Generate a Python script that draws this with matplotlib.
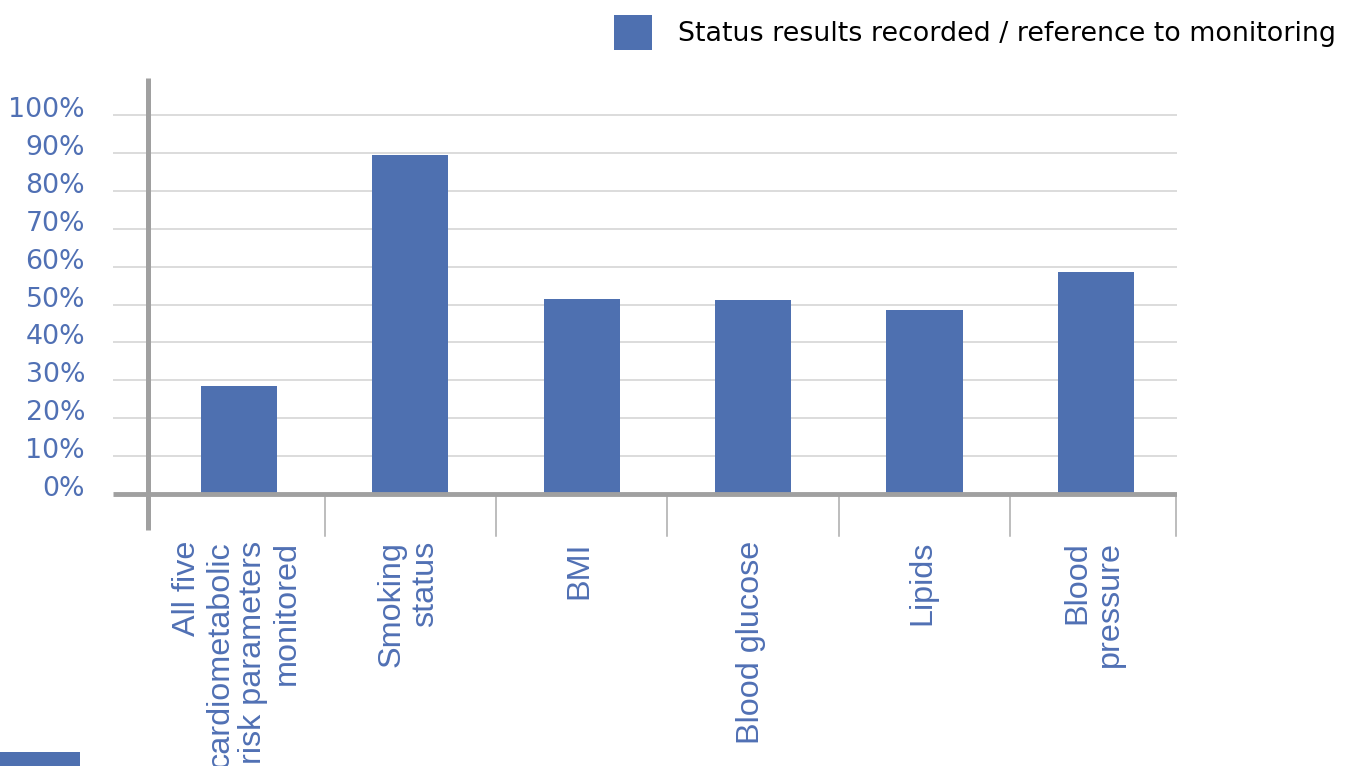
import matplotlib
matplotlib.use("Agg")
import matplotlib.pyplot as plt
from matplotlib.patches import Rectangle, Patch
import matplotlib.transforms as mtransforms

categories = ["All five\ncardiometabolic\nrisk parameters\nmonitored", "Smoking\nstatus", "BMI",
              "Blood glucose", "Lipids", "Blood\npressure"]
values = [28.5, 89.4, 51.5, 51.2, 48.5, 58.6]
yticks = [0, 10, 20, 30, 40, 50, 60, 70, 80, 90, 100]
ytick_labels = [f"{v}%" for v in yticks]
legend_label = "Status results recorded / reference to monitoring"

BAR = "#4E70B0"
TXT = "#5070B4"
AX = "#A0A0A0"
GRID = "#D9D9D9"

fig = plt.figure(figsize=(13.51, 7.66), dpi=100)
ax = fig.add_axes([113/1351, 1-539.5/766, (1177-113)/1351, (539.5-78)/766])
ax.set_xlim(-0.735, 5.473)
ax.set_ylim(-12, 109.8)
for s in ax.spines.values():
    s.set_visible(False)
ax.set_xticks([]); ax.set_yticks([])

for v in yticks[1:]:
    ax.axhline(v, color=GRID, lw=1.3, zorder=1)

x = list(range(len(categories)))
ax.bar(x, values, width=0.445, color=BAR, zorder=3)

# axes lines
ax.plot([-0.735, 5.473], [0, 0], color=AX, lw=3.5, zorder=4, solid_capstyle='butt')
ax.plot([-0.531, -0.531], [-9.5, 109.8], color=AX, lw=3.6, zorder=4, solid_capstyle='butt')
for sx in [0.5, 1.5, 2.5, 3.5, 4.5, 5.465]:
    ax.plot([sx, sx], [0, -11.2], color="#ABABAB", lw=1.1, zorder=2)

off = mtransforms.offset_copy(ax.transData, fig=fig, x=0, y=5, units='dots')
for v, lab in zip(yticks, ytick_labels):
    ax.text(-0.898, v, lab, transform=off, ha='right', va='center', fontsize=19.3,
            color=TXT, family='DejaVu Sans', clip_on=False)

for xi, lab in zip(x, categories):
    ax.text(xi - 0.012, -12.4, lab, rotation=90, ha='center', va='top', multialignment='right',
            fontsize=23.3, color=TXT, family='Liberation Sans', linespacing=1.13, clip_on=False)

fig.legend(handles=[Patch(facecolor=BAR, edgecolor='none')], labels=[legend_label],
           loc='center left', bbox_to_anchor=(614/1351, 1-32.5/766), frameon=False,
           prop={'family': 'DejaVu Sans', 'size': 19.4}, handlelength=1.41, handleheight=1.64,
           handletextpad=0.96, borderpad=0, borderaxespad=0)

fig.patches.append(Rectangle((0, 0), 80/1351, 14/766, transform=fig.transFigure,
                             facecolor=BAR, edgecolor='none'))

fig.savefig("out.png", dpi=100)
